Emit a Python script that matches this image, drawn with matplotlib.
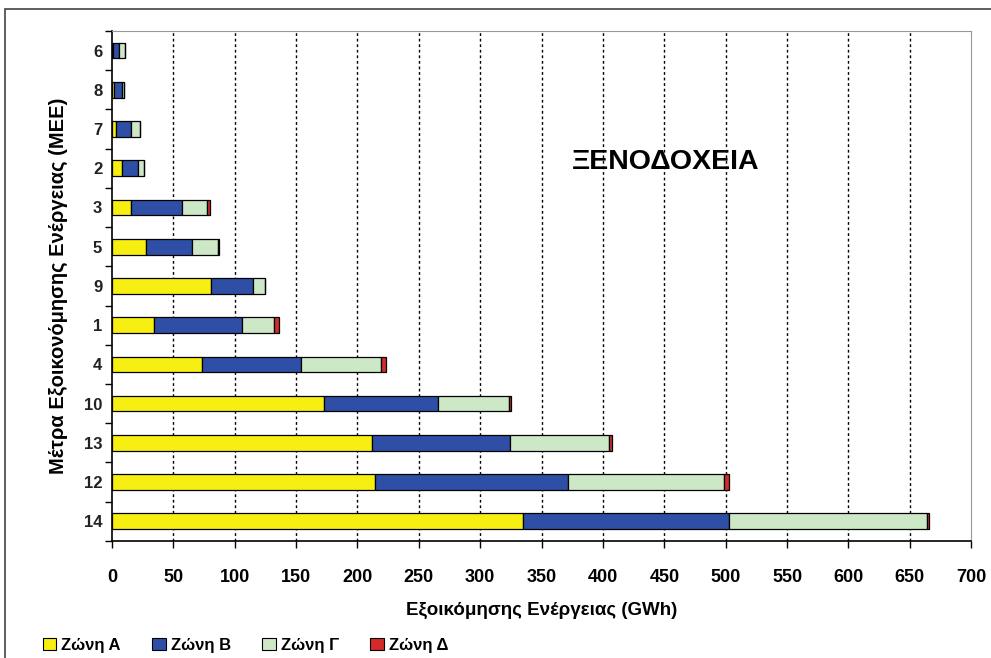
import numpy as np
import matplotlib
matplotlib.use("Agg")
import matplotlib.pyplot as plt
from matplotlib.patches import Rectangle, Patch

plt.rcParams['font.family'] = ['Liberation Sans', 'DejaVu Sans']
plt.rcParams['font.weight'] = 'bold'
plt.rcParams['axes.labelweight'] = 'bold'

# Μέτρα (από πάνω προς τα κάτω) και εξοικονόμηση ανά ζώνη (GWh)
measures = ['6', '8', '7', '2', '3', '5', '9', '1', '4', '10', '13', '12', '14']
zone_a = [0.5, 2, 3.5, 8, 15.5, 27.5, 81, 34.5, 73.5, 172.5, 212, 214.5, 334.5]
zone_b = [5.5, 6, 12, 13, 41.5, 37.5, 34, 71.5, 80.5, 93, 112, 157, 168.5]
zone_c = [5, 2, 7, 5, 20.5, 21, 9.5, 26, 65, 58, 81, 127, 161]
zone_d = [0, 0, 0, 0, 2, 1.5, 0, 4, 4.5, 1.5, 2.5, 4.5, 2]

zone_names = ['Ζώνη Α', 'Ζώνη Β', 'Ζώνη Γ', 'Ζώνη Δ']
colors = ['#f7ee12', '#2f4fa6', '#cde8c6', '#d42a2a']

fig = plt.figure(figsize=(9.91, 6.58), dpi=100)
ax = fig.add_axes([0.113, 0.178, 0.867, 0.775])

y = np.arange(len(measures))
left = np.zeros(len(measures))
for vals, col in zip([zone_a, zone_b, zone_c, zone_d], colors):
    vals = np.array(vals, dtype=float)
    ax.barh(y, vals, left=left, height=0.4, color=col,
            edgecolor='black', linewidth=0.9, zorder=3)
    left += vals

ax.set_xlim(0, 700)
ax.set_ylim(len(measures) - 0.5, -0.5)
ax.set_xticks(np.arange(0, 701, 50))
ax.set_yticks(y)
ax.set_yticklabels(measures)
# ticks between categories, like a spreadsheet chart
ax.set_yticks(np.arange(-0.5, len(measures), 1), minor=True)
ax.tick_params(axis='y', which='major', length=0, pad=7, labelsize=12, colors='#222222')
ax.tick_params(axis='y', which='minor', length=5, width=1, direction='out')
ax.tick_params(axis='x', length=5, width=1, direction='out', pad=15, labelsize=13)

for xv in np.arange(50, 700, 50):
    ax.axvline(xv, color='black', linestyle=(0, (2, 2)), linewidth=1, zorder=1)

for s in ['top', 'right']:
    ax.spines[s].set_color('#999999')
for s in ['left', 'bottom']:
    ax.spines[s].set_color('black')
    ax.spines[s].set_linewidth(1.2)

ax.set_xlabel('Εξοικόμησης Ενέργειας (GWh)', fontsize=13.5, labelpad=12)
ax.set_ylabel('Μέτρα Εξοικονόμησης Ενέργειας (ΜΕΕ)', fontsize=14.5, labelpad=11)

ax.text(451, 2.85, 'ΞΕΝΟΔΟΧΕΙΑ', fontsize=20.5, ha='center', va='center')

handles = [Patch(facecolor=c, edgecolor='black', linewidth=0.8) for c in colors]
fig.legend(handles, zone_names, loc='lower left', bbox_to_anchor=(0.028, -0.015),
           ncol=4, frameon=False, fontsize=12, handlelength=0.8, handleheight=0.8,
           handletextpad=0.3, columnspacing=1.9)

# outer chart frame
fig.patches.append(Rectangle((5 / 991, -0.1), 1.2, 1 - 9 / 658 + 0.1,
                             transform=fig.transFigure, fill=False,
                             edgecolor='#444444', linewidth=1.2))

fig.savefig('out.png', dpi=100)
